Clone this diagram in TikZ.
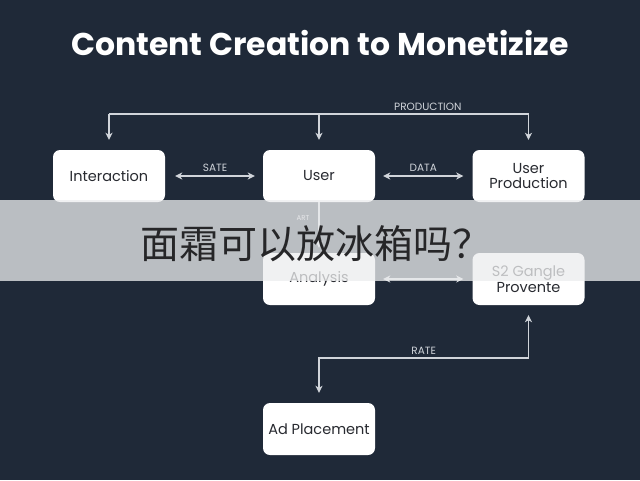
\documentclass[tikz,border=0pt]{standalone}
\usepackage{fontspec}
\setmainfont{Poppins}
\newfontfamily\cjk{Noto Sans CJK SC}
\usetikzlibrary{arrows.meta}
\definecolor{bg}{RGB}{31,41,56}
\definecolor{linec}{RGB}{208,212,218}
\definecolor{boxtext}{RGB}{40,42,48}
\definecolor{bannerc}{RGB}{236,237,238}
\definecolor{cjktext}{RGB}{38,38,40}
\begin{document}
\begin{tikzpicture}[x=1pt,y=-1pt,
  box/.style={rectangle,rounded corners=7pt,fill=white,minimum width=112pt,minimum height=52pt,inner sep=0pt,align=center,text=boxtext,font=\fontsize{14.5}{15.5}\selectfont},
  conn/.style={draw=linec,line width=1.3pt},
  arr/.style={conn,-{Stealth[length=7pt,width=7pt,inset=2pt]}},
  darr/.style={conn,{Stealth[length=7pt,width=7pt,inset=2pt]}-{Stealth[length=7pt,width=7pt,inset=2pt]}},
  lbl/.style={text=linec,font=\fontsize{10.5}{12}\selectfont,inner sep=1pt}
]
\useasboundingbox (0,0) rectangle (640,480);
\fill[bg] (0,0) rectangle (640,480);

\node[text=white,font=\fontsize{31.5}{36}\bfseries\selectfont] (title) at (320,43) {Content Creation to Monetizize};

\node[box] (inter) at (109,176) {Interaction};
\node[box] (user) at (319,176) {User};
\node[box] (prod) at (528.5,176) {User\\Production};
\node[box] (anal) at (319,279) {Analysis};
\node[box] (s2) at (528.5,279) {S2 Gangle\\Provente};
\node[box] (ad) at (319,429) {Ad Placement};

% top production connector
\coordinate (pl) at (109,114);
\coordinate (pr) at (528.5,114);
\draw[conn] (pl) -- (pr) node[lbl,pos=0.76,above=2pt] (plbl) {PRODUCTION};
\draw[arr] (pl) -- ([yshift=10pt]inter.north);
\draw[arr] (user.north |- pl) -- ([yshift=10pt]user.north);
\draw[arr] (pr) -- ([yshift=10pt]prod.north);

% horizontal links
\draw[darr] ([xshift=10pt]inter.east) -- ([xshift=-8pt]user.west) node[lbl,midway,above=3pt] (slbl) {SATE};
\draw[darr] ([xshift=8pt]user.east) -- ([xshift=-9pt]prod.west) node[lbl,midway,above=3pt] (dlbl) {DATA};
\draw[darr] ([xshift=8pt]anal.east) -- ([xshift=-9pt]s2.west);

% user to analysis
\draw[arr] (user.south) -- ([yshift=5pt]anal.north);
\node[lbl,font=\fontsize{7}{8}\selectfont] (alb) at (303,218) {ART};

% rate connector
\coordinate (r1) at (528.5,358);
\coordinate (r2) at (319,358);
\draw[arr] (r1) -- ([yshift=-10pt]s2.south);
\draw[arr] (r1) -- (r2) node[lbl,midway,above=2pt] (rlbl) {RATE} -- ([yshift=10pt]ad.north);

% overlay banner
\fill[bannerc,fill opacity=0.76] (0,200) rectangle (640,281);
\node[text=cjktext,font=\cjk\fontsize{39}{42}\selectfont,inner sep=0pt] (q) at (316,244) {面霜可以放冰箱吗？};
\end{tikzpicture}
\end{document}
